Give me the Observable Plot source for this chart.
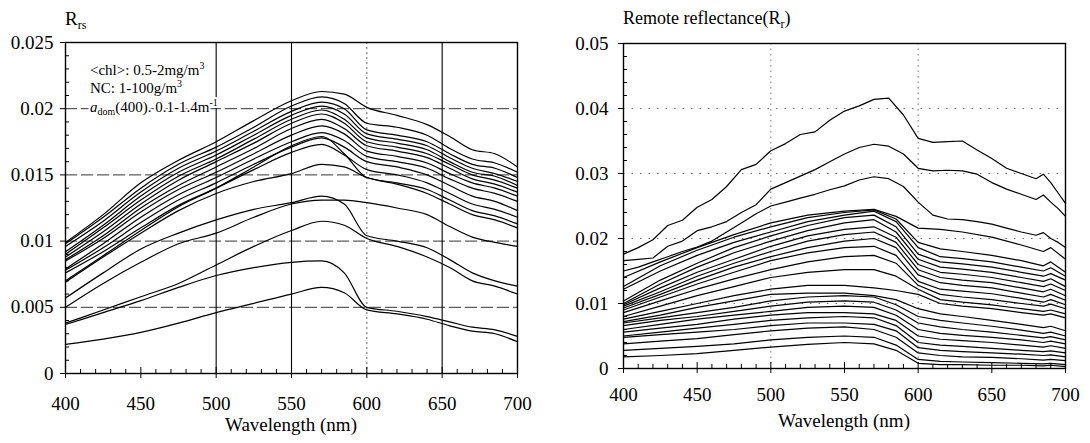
<!DOCTYPE html>
<html><head><meta charset="utf-8">
<script src="https://cdn.jsdelivr.net/npm/d3@7"></script>
<script src="https://cdn.jsdelivr.net/npm/@observablehq/plot@0.6"></script>
<style>
html,body{margin:0;padding:0;background:#fff;}
#wrap{position:relative;width:1090px;height:443px;display:flex;}
#wrap svg{display:block;}
#wrap svg text, #wrap svg g[aria-label$="axis tick label"]{font-family:"Liberation Serif","Times New Roman",Times,serif !important;}
</style></head><body><div id="wrap"></div>
<script>
// ---------- Left panel: Rrs ----------
const leftWavelengths = [400, 425, 450, 475, 500, 525, 550, 570, 585, 600, 620, 640, 655, 670, 685, 700];
const leftSeries = [
  [0.0099, 0.0120, 0.0144, 0.0161, 0.0175, 0.0191, 0.0206, 0.0213, 0.0211, 0.0201, 0.0195, 0.0188, 0.0179, 0.0169, 0.0166, 0.0156],
  [0.0098, 0.0118, 0.0140, 0.0158, 0.0171, 0.0186, 0.0202, 0.0209, 0.0204, 0.0189, 0.0186, 0.0180, 0.0170, 0.0162, 0.0159, 0.0152],
  [0.0096, 0.0115, 0.0137, 0.0155, 0.0168, 0.0183, 0.0198, 0.0205, 0.0200, 0.0184, 0.0180, 0.0175, 0.0166, 0.0158, 0.0155, 0.0148],
  [0.0092, 0.0112, 0.0134, 0.0152, 0.0165, 0.0180, 0.0195, 0.0202, 0.0196, 0.0181, 0.0177, 0.0172, 0.0163, 0.0155, 0.0151, 0.0145],
  [0.0090, 0.0110, 0.0131, 0.0149, 0.0162, 0.0177, 0.0192, 0.0199, 0.0192, 0.0178, 0.0174, 0.0169, 0.0160, 0.0152, 0.0149, 0.0142],
  [0.0088, 0.0107, 0.0128, 0.0146, 0.0160, 0.0174, 0.0189, 0.0196, 0.0189, 0.0175, 0.0171, 0.0166, 0.0158, 0.0150, 0.0146, 0.0140],
  [0.0086, 0.0104, 0.0125, 0.0142, 0.0156, 0.0170, 0.0185, 0.0192, 0.0185, 0.0172, 0.0168, 0.0163, 0.0155, 0.0147, 0.0143, 0.0137],
  [0.0085, 0.0102, 0.0122, 0.0139, 0.0152, 0.0166, 0.0180, 0.0187, 0.0181, 0.0168, 0.0164, 0.0159, 0.0151, 0.0144, 0.0140, 0.0134],
  [0.0079, 0.0098, 0.0118, 0.0135, 0.0148, 0.0162, 0.0175, 0.0182, 0.0176, 0.0164, 0.0160, 0.0155, 0.0147, 0.0140, 0.0136, 0.0130],
  [0.0078, 0.0095, 0.0114, 0.0131, 0.0144, 0.0158, 0.0171, 0.0178, 0.0171, 0.0160, 0.0156, 0.0150, 0.0142, 0.0134, 0.0130, 0.0123],
  [0.0076, 0.0092, 0.0110, 0.0127, 0.0140, 0.0154, 0.0167, 0.0173, 0.0165, 0.0154, 0.0150, 0.0144, 0.0136, 0.0128, 0.0124, 0.0118],
  [0.0070, 0.0089, 0.0108, 0.0126, 0.0140, 0.0156, 0.0172, 0.0179, 0.0166, 0.0148, 0.0144, 0.0139, 0.0131, 0.0123, 0.0119, 0.0113],
  [0.0069, 0.0088, 0.0106, 0.0123, 0.0136, 0.0145, 0.0151, 0.0158, 0.0156, 0.0148, 0.0143, 0.0136, 0.0128, 0.0120, 0.0116, 0.0110],
  [0.0050, 0.0068, 0.0084, 0.0098, 0.0106, 0.0118, 0.0128, 0.0131, 0.0131, 0.0129, 0.0125, 0.0120, 0.0111, 0.0103, 0.0099, 0.0096],
  [0.0057, 0.0076, 0.0094, 0.0106, 0.0116, 0.0124, 0.0129, 0.0134, 0.0128, 0.0104, 0.0100, 0.0095, 0.0086, 0.0076, 0.0070, 0.0066],
  [0.0038, 0.0048, 0.0058, 0.0068, 0.0082, 0.0096, 0.0108, 0.0115, 0.0112, 0.0102, 0.0096, 0.0088, 0.0080, 0.0070, 0.0066, 0.0060],
  [0.0037, 0.0046, 0.0055, 0.0065, 0.0074, 0.0080, 0.0084, 0.0085, 0.0076, 0.0050, 0.0047, 0.0043, 0.0039, 0.0035, 0.0033, 0.0028],
  [0.0022, 0.0026, 0.0031, 0.0038, 0.0046, 0.0053, 0.0060, 0.0065, 0.0061, 0.0048, 0.0045, 0.0041, 0.0036, 0.0032, 0.0030, 0.0024]
];
const leftYTicks = [0, 0.005, 0.01, 0.015, 0.02, 0.025];
const leftYMinor = [0.001,0.002,0.003,0.004,0.006,0.007,0.008,0.009,0.011,0.012,0.013,0.014,0.016,0.017,0.018,0.019,0.021,0.022,0.023,0.024];
const leftGridY = [0.005, 0.01, 0.015, 0.02];
const leftGridSolidX = [500, 550, 650];
const leftGridDotX = [600];

// ---------- Right panel: Remote reflectance ----------
// three upper spectra, finely read (they carry visible wiggles)
const rightTopWavelengths = [400,410,420,430,440,450,460,470,480,490,500,510,520,530,540,550,560,570,580,590,600,610,620,630,640,650,660,670,680,685,690,695,700];
const rightTopSeries = [
  [0.0176,0.0186,0.0198,0.0220,0.0228,0.0248,0.0260,0.0280,0.0306,0.0314,0.0335,0.0346,0.0360,0.0364,0.0382,0.0396,0.0404,0.0414,0.0416,0.0390,0.0354,0.0348,0.0349,0.0350,0.0336,0.0323,0.0308,0.0300,0.0292,0.0299,0.0286,0.0270,0.0254],
  [0.0166,0.0168,0.0170,0.0188,0.0196,0.0212,0.0218,0.0226,0.0240,0.0252,0.0276,0.0286,0.0296,0.0306,0.0318,0.0330,0.0340,0.0345,0.0342,0.0330,0.0308,0.0304,0.0305,0.0304,0.0299,0.0286,0.0276,0.0268,0.0260,0.0267,0.0256,0.0246,0.0234],
  [0.0150,0.0156,0.0164,0.0172,0.0180,0.0187,0.0196,0.0210,0.0224,0.0238,0.0250,0.0256,0.0262,0.0268,0.0275,0.0281,0.0290,0.0295,0.0292,0.0280,0.0256,0.0236,0.0230,0.0229,0.0226,0.0222,0.0216,0.0210,0.0205,0.0209,0.0200,0.0194,0.0186]
];
// remaining spectra
const rightWavelengths = [400, 425, 450, 475, 500, 525, 550, 570, 585, 600, 615, 630, 650, 670, 685, 690, 700];
const rightSeries = [
  [0.0140, 0.0164, 0.0186, 0.0206, 0.0224, 0.0236, 0.0242, 0.0245, 0.0234, 0.0216, 0.0214, 0.0210, 0.0202, 0.0190, 0.0180, 0.0186, 0.0168],
  [0.0126, 0.0158, 0.0182, 0.0202, 0.0218, 0.0232, 0.0240, 0.0244, 0.0230, 0.0194, 0.0184, 0.0180, 0.0174, 0.0166, 0.0158, 0.0164, 0.0148],
  [0.0122, 0.0150, 0.0174, 0.0194, 0.0210, 0.0226, 0.0236, 0.0242, 0.0226, 0.0186, 0.0172, 0.0169, 0.0164, 0.0156, 0.0150, 0.0155, 0.0142],
  [0.0104, 0.0136, 0.0162, 0.0186, 0.0204, 0.0220, 0.0232, 0.0236, 0.0218, 0.0176, 0.0164, 0.0161, 0.0156, 0.0148, 0.0142, 0.0146, 0.0136],
  [0.0100, 0.0130, 0.0156, 0.0178, 0.0196, 0.0212, 0.0224, 0.0229, 0.0210, 0.0168, 0.0156, 0.0153, 0.0148, 0.0140, 0.0134, 0.0138, 0.0126],
  [0.0098, 0.0124, 0.0148, 0.0168, 0.0188, 0.0204, 0.0214, 0.0218, 0.0202, 0.0160, 0.0148, 0.0145, 0.0140, 0.0132, 0.0126, 0.0130, 0.0120],
  [0.0096, 0.0118, 0.0142, 0.0162, 0.0180, 0.0196, 0.0206, 0.0210, 0.0194, 0.0152, 0.0140, 0.0136, 0.0132, 0.0124, 0.0118, 0.0122, 0.0112],
  [0.0093, 0.0114, 0.0136, 0.0156, 0.0172, 0.0186, 0.0196, 0.0200, 0.0186, 0.0144, 0.0132, 0.0128, 0.0124, 0.0116, 0.0110, 0.0114, 0.0105],
  [0.0090, 0.0110, 0.0130, 0.0148, 0.0166, 0.0178, 0.0186, 0.0188, 0.0174, 0.0134, 0.0122, 0.0119, 0.0115, 0.0108, 0.0102, 0.0106, 0.0098],
  [0.0086, 0.0104, 0.0122, 0.0138, 0.0152, 0.0164, 0.0172, 0.0174, 0.0162, 0.0128, 0.0114, 0.0110, 0.0106, 0.0100, 0.0096, 0.0099, 0.0092],
  [0.0080, 0.0096, 0.0112, 0.0126, 0.0140, 0.0148, 0.0152, 0.0152, 0.0142, 0.0122, 0.0106, 0.0102, 0.0098, 0.0092, 0.0088, 0.0090, 0.0084],
  [0.0076, 0.0088, 0.0100, 0.0112, 0.0122, 0.0128, 0.0128, 0.0124, 0.0120, 0.0114, 0.0100, 0.0096, 0.0092, 0.0086, 0.0082, 0.0084, 0.0078],
  [0.0072, 0.0082, 0.0094, 0.0104, 0.0114, 0.0116, 0.0116, 0.0112, 0.0106, 0.0092, 0.0084, 0.0080, 0.0074, 0.0068, 0.0063, 0.0065, 0.0058],
  [0.0070, 0.0078, 0.0086, 0.0094, 0.0104, 0.0110, 0.0112, 0.0110, 0.0098, 0.0080, 0.0074, 0.0070, 0.0065, 0.0059, 0.0054, 0.0056, 0.0050],
  [0.0066, 0.0074, 0.0080, 0.0088, 0.0096, 0.0102, 0.0104, 0.0102, 0.0090, 0.0070, 0.0064, 0.0060, 0.0056, 0.0051, 0.0047, 0.0049, 0.0044],
  [0.0060, 0.0068, 0.0076, 0.0082, 0.0088, 0.0094, 0.0096, 0.0094, 0.0082, 0.0060, 0.0054, 0.0051, 0.0048, 0.0044, 0.0040, 0.0042, 0.0038],
  [0.0056, 0.0062, 0.0068, 0.0076, 0.0082, 0.0086, 0.0086, 0.0084, 0.0074, 0.0050, 0.0045, 0.0043, 0.0040, 0.0036, 0.0033, 0.0035, 0.0031],
  [0.0050, 0.0056, 0.0062, 0.0068, 0.0074, 0.0078, 0.0080, 0.0078, 0.0066, 0.0040, 0.0036, 0.0034, 0.0031, 0.0028, 0.0026, 0.0027, 0.0024],
  [0.0048, 0.0052, 0.0056, 0.0060, 0.0066, 0.0070, 0.0070, 0.0068, 0.0058, 0.0032, 0.0028, 0.0026, 0.0024, 0.0022, 0.0020, 0.0021, 0.0018],
  [0.0038, 0.0042, 0.0046, 0.0052, 0.0058, 0.0062, 0.0064, 0.0060, 0.0048, 0.0024, 0.0020, 0.0018, 0.0017, 0.0015, 0.0013, 0.0014, 0.0012],
  [0.0028, 0.0031, 0.0034, 0.0038, 0.0044, 0.0048, 0.0050, 0.0048, 0.0036, 0.0014, 0.0011, 0.0010, 0.0009, 0.0008, 0.0007, 0.0008, 0.0006],
  [0.0018, 0.0020, 0.0023, 0.0028, 0.0033, 0.0037, 0.0040, 0.0038, 0.0028, 0.0008, 0.0006, 0.0006, 0.0005, 0.0005, 0.0004, 0.0005, 0.0003]
];
const rightYTicks = [0, 0.01, 0.02, 0.03, 0.04, 0.05];
const rightYMinor = [0.002,0.004,0.006,0.008,0.012,0.014,0.016,0.018,0.022,0.024,0.026,0.028,0.032,0.034,0.036,0.038,0.042,0.044,0.046,0.048];
const rightGridY = [0.01, 0.02, 0.03, 0.04];
const rightGridX = [500, 600];

// ---------- shared ----------
const xTicks = [400, 450, 500, 550, 600, 650, 700];
const xMinor = [410,420,430,440,460,470,480,490,510,520,530,540,560,570,580,590,610,620,630,640,660,670,680,690];
const xLabel = "Wavelength (nm)";

const FONT = '"Liberation Serif", "Times New Roman", Times, serif';
const toRows = (wls, series, off = 0) => series.flatMap((s, i) => s.map((v, j) => ({wl: wls[j], v, id: i + off})));

function panel(opts) {
  const {rows, yDomain, yTicks, yMinor, gridMarks, curve, m, xPad, yPad} = opts;
  const ax = {fontFamily: FONT, fontSize: 19, label: null};
  return Plot.plot({
    width: 545, height: 443,
    marginLeft: m[0], marginRight: m[1], marginTop: m[2], marginBottom: m[3],
    x: {domain: [400, 700], axis: null},
    y: {domain: yDomain, axis: null},
    style: {fontFamily: FONT, fontSize: "19px", color: "#000", background: "#fff", overflow: "visible"},
    marks: [
      ...gridMarks,
      Plot.line(rows, {x: "wl", y: "v", z: "id", stroke: "#000", strokeWidth: 1.2, curve}),
      Plot.frame({stroke: "#000", strokeWidth: 1.4}),
      Plot.axisX(xMinor, {...ax, tickSize: -4, tickFormat: () => ""}),
      Plot.axisX(xTicks, {...ax, tickSize: -6, tickFormat: () => ""}),
      Plot.axisX(xTicks, {...ax, tickSize: 5, tickPadding: xPad, tickFormat: d => String(d)}),
      Plot.axisY(yMinor, {...ax, tickSize: -4, tickFormat: () => ""}),
      Plot.axisY(yTicks, {...ax, tickSize: 5, tickPadding: yPad, tickFormat: d => String(d)})
    ]
  });
}

const left = panel({
  rows: toRows(leftWavelengths, leftSeries),
  yDomain: [0, 0.025], yTicks: leftYTicks, yMinor: leftYMinor,
  curve: "monotone-x", m: [65, 28, 42, 70], xPad: 18, yPad: 7,
  gridMarks: [
    Plot.ruleY(leftGridY, {stroke: "#000", strokeOpacity: 0.8, strokeDasharray: "12,4"}),
    Plot.ruleX(leftGridSolidX, {stroke: "#000", strokeWidth: 1.1}),
    Plot.ruleX(leftGridDotX, {stroke: "#000", strokeOpacity: 0.6, strokeDasharray: "2,3"})
  ]
});
const right = panel({
  rows: toRows(rightTopWavelengths, rightTopSeries).concat(toRows(rightWavelengths, rightSeries, 100)),
  yDomain: [0, 0.05], yTicks: rightYTicks, yMinor: rightYMinor,
  curve: "linear", m: [78, 25, 43, 75], xPad: 14, yPad: 10,
  gridMarks: [
    Plot.ruleY(rightGridY, {stroke: "#000", strokeOpacity: 0.55, strokeDasharray: "1.5,7"}),
    Plot.ruleX(rightGridX, {stroke: "#000", strokeOpacity: 0.55, strokeDasharray: "1.5,4"})
  ]
});

const wrap = document.getElementById("wrap");
wrap.appendChild(left);
wrap.appendChild(right);

// Titles, annotation and axis labels (text with sub/superscripts)
function txt(svg, x, y, size, parts, anchor, halo) {
  const t = d3.select(svg).append("text")
    .attr("x", x).attr("y", y)
    .attr("font-family", FONT).attr("font-size", size).attr("fill", "#000")
    .attr("text-anchor", anchor || "start");
  if (halo) t.attr("stroke", "#fff").attr("stroke-width", 4).attr("paint-order", "stroke").attr("stroke-linejoin", "round");
  for (const p of parts) {
    const s = t.append("tspan").text(p.t);
    if (p.size) s.attr("font-size", p.size);
    if (p.dy) s.attr("dy", p.dy);
    if (p.italic) s.attr("font-style", "italic");
  }
  return t;
}
txt(left, 65, 25, 19, [{t: "R"}, {t: "rs", size: 12, dy: 4}]);
txt(right, 78, 24, 18, [{t: "Remote reflectance(R"}, {t: "r", size: 12, dy: 4}, {t: ")", dy: -4}]);
txt(left, 90, 75, 15, [{t: "<chl>: 0.5-2mg/m"}, {t: "3", size: 10, dy: -6}], null, true);
txt(left, 90, 93, 15, [{t: "NC: 1-100g/m"}, {t: "3", size: 10, dy: -6}], null, true);
txt(left, 90, 112, 15, [{t: "a", italic: true}, {t: "dom", size: 10, dy: 3}, {t: "(400). 0.1-1.4m", dy: -3}, {t: "-1", size: 10, dy: -6}], null, true);
txt(left, 291, 431, 19, [{t: xLabel}], "middle");
txt(right, 299, 427, 19, [{t: xLabel}], "middle");
</script></body></html>
